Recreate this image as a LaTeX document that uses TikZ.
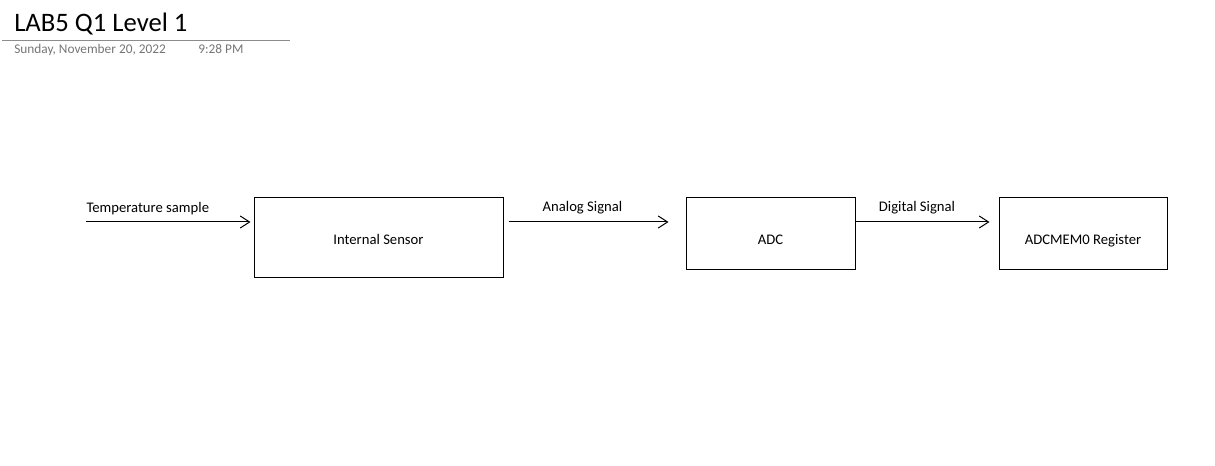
\documentclass[tikz,border=0pt]{standalone}
\usepackage{fontspec}
\setmainfont{Carlito}
\usepackage{xcolor}
\usetikzlibrary{arrows.meta}
\usetikzlibrary{positioning}
\definecolor{dategray}{RGB}{118,118,118}
\definecolor{rulegray}{RGB}{140,140,140}

\begin{document}
\begin{tikzpicture}[x=0.75pt,y=-0.75pt,
    block/.style={draw, line width=0.75pt, inner sep=0pt, text depth=2pt, font=\fontsize{11}{13}\selectfont},
    flow/.style={-{Straight Barb[length=7pt,width=9pt]}, line width=0.75pt},
    lbl/.style={font=\fontsize{11}{13}\selectfont, above=2pt}]
            \useasboundingbox (0,0) rectangle (1215,466);
            % header
            \node [anchor=base west, inner sep=0pt, font=\fontsize{20}{24}\selectfont] (title) at (14,32){LAB5 Q1 Level 1};
            \draw [rulegray, line width=0.75pt](2,41)--(290,41);
            \node [anchor=base west, inner sep=0pt, text=dategray, font=\fontsize{10}{12}\selectfont] (date) at (14,54){Sunday, November 20, 2022};
            \node [anchor=base west, inner sep=0pt, text=dategray, font=\fontsize{10}{12}\selectfont] (time) at (198,54){9:28 PM};
            % blocks
            \node [block, minimum width=186.75pt, minimum height=60pt, text height=12pt] (sensor) at (378.5,238){Internal Sensor};
            \node [block, minimum width=126.75pt, minimum height=54pt, text height=18pt] (adc) at (770.5,234){ADC};
            \node [block, minimum width=126pt, minimum height=54pt, text height=18pt] (reg) at (1083,234){ADCMEM0 Register};
            % signals
            \coordinate (tin) at (86,222);
            \draw [flow, shorten >=2.25pt](tin)--(sensor.west |- tin)
                node [lbl, at start, anchor=south west, inner xsep=0pt]{Temperature sample};
            \draw [flow, shorten <=3.75pt, shorten >=12.75pt](sensor.east |- tin)--(adc.west |- tin)
                node [lbl, midway, xshift=-9pt]{Analog Signal};
            \draw [flow, shorten >=6.75pt](adc.east |- tin)--(reg.west |- tin)
                node [lbl, midway, xshift=-7.5pt]{Digital Signal};
        \end{tikzpicture}
\end{document}
